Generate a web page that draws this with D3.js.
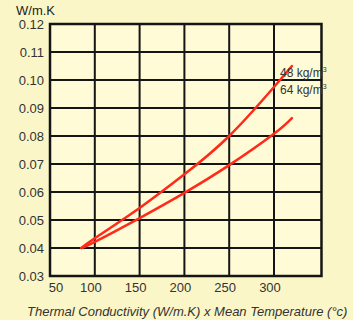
<!DOCTYPE html>
<html>
<head>
<meta charset="utf-8">
<script src="https://cdn.jsdelivr.net/npm/d3@7"></script>
<style>
  body { margin: 0; background: #faf6c8; }
  svg { display: block; font-family: "Liberation Sans", Arial, sans-serif; }
</style>
</head>
<body>
<div id="chart"></div>
<script>
  'use strict';

  // tick values
  var xTicks = [50, 100, 150, 200, 250, 300];
  var yTicks = [0.03, 0.04, 0.05, 0.06, 0.07, 0.08, 0.09, 0.10, 0.11, 0.12];
  var yLabels = ['0.03', '0.04', '0.05', '0.06', '0.07', '0.08', '0.09', '0.10', '0.11', '0.12'];

  // mean temperature (x) and conductivity for each density
  var temps = [85, 100, 150, 200, 250, 300, 320];
  var k48 = [0.040, 0.0435, 0.0543, 0.0663, 0.0800, 0.0975, 0.1050];
  var k64 = [0.040, 0.0422, 0.0507, 0.0597, 0.0696, 0.0808, 0.0864];
  var seriesNames = ['48 kg/m', '64 kg/m'];

  var w = 353,
    h = 320;

  var x = d3.scaleLinear().domain([50, 300]).range([50, 274]);
  var y = d3.scaleLinear().domain([0.03, 0.12]).range([276, 24]);
  var xMax = 353;

  var svg = d3.select('#chart')
    .append('svg')
    .attr('width', w)
    .attr('height', h);

  // plot background
  svg.append('rect')
    .attr('x', x(50))
    .attr('y', y(0.12))
    .attr('width', x(xMax) - x(50))
    .attr('height', y(0.03) - y(0.12))
    .attr('fill', '#fffbd6');

  // grid
  var grid = svg.append('g').attr('stroke', '#151515').attr('stroke-width', 2);
  grid.selectAll('line.h')
    .data(yTicks)
    .enter().append('line')
    .attr('x1', x(50)).attr('x2', x(xMax))
    .attr('y1', function(d) { return y(d); })
    .attr('y2', function(d) { return y(d); });
  grid.selectAll('line.v')
    .data(xTicks)
    .enter().append('line')
    .attr('y1', y(0.03)).attr('y2', y(0.12))
    .attr('x1', function(d) { return x(d); })
    .attr('x2', function(d) { return x(d); });

  svg.append('rect')
    .attr('x', x(50))
    .attr('y', y(0.12))
    .attr('width', x(xMax) - x(50))
    .attr('height', y(0.03) - y(0.12))
    .attr('fill', 'none')
    .attr('stroke', '#151515')
    .attr('stroke-width', 2.5);

  // y tick labels
  svg.append('g').selectAll('text')
    .data(yTicks)
    .enter().append('text')
    .attr('x', 44)
    .attr('y', function(d) { return y(d) + 5; })
    .attr('text-anchor', 'end')
    .attr('font-size', 13)
    .attr('fill', '#333')
    .text(function(d, i) { return yLabels[i]; });

  // x tick labels
  svg.append('g').selectAll('text')
    .data(xTicks)
    .enter().append('text')
    .attr('x', function(d, i) { return i === 0 ? x(d) + 6 : x(d) - 4; })
    .attr('y', 292)
    .attr('text-anchor', 'middle')
    .attr('font-size', 13)
    .attr('fill', '#333')
    .text(function(d) { return d; });

  svg.append('text')
    .attr('x', 16)
    .attr('y', 15)
    .attr('font-size', 13)
    .attr('fill', '#222')
    .text('W/m.K');

  svg.append('text')
    .attr('x', 27)
    .attr('y', 316)
    .attr('font-size', 13)
    .attr('font-style', 'italic')
    .attr('fill', '#333')
    .text('Thermal Conductivity (W/m.K) x Mean Temperature (°c)');

  // curves
  var line = d3.line()
    .x(function(d) { return x(d[0]); })
    .y(function(d) { return y(d[1]); })
    .curve(d3.curveNatural);

  [k48, k64].forEach(function(vals) {
    svg.append('path')
      .datum(d3.zip(temps, vals))
      .attr('d', line)
      .attr('fill', 'none')
      .attr('stroke', '#ff2a1a')
      .attr('stroke-width', 2.5)
      .attr('stroke-linecap', 'round');
  });

  // series labels
  var lab = svg.append('g').selectAll('text')
    .data(seriesNames)
    .enter().append('text')
    .attr('x', 280)
    .attr('y', function(d, i) { return 77 + i * 17; })
    .attr('font-size', 12)
    .attr('fill', '#333')
    .text(function(d) { return d; });
  lab.append('tspan')
    .attr('dy', -5)
    .attr('font-size', 7)
    .text('3');
</script>
</body>
</html>
